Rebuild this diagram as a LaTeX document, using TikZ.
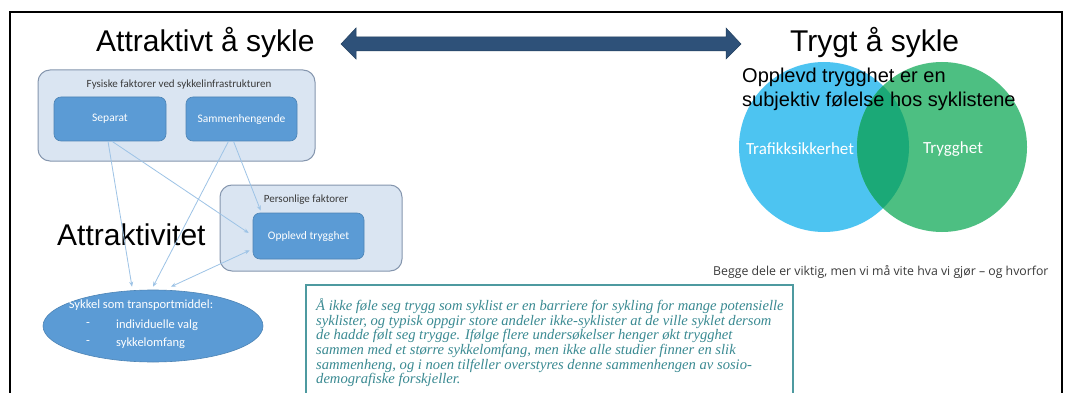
\documentclass[tikz,border=0pt]{standalone}
\usepackage{fontspec}
\setmainfont{Liberation Sans}
\newfontfamily\calfont{Carlito}
\newfontfamily\osfont{Open Sans}
\newfontfamily\garfont{Liberation Serif}
\usetikzlibrary{arrows.meta,calc,shapes.geometric}
\definecolor{outerfill}{HTML}{DAE5F2}
\definecolor{outerline}{HTML}{8596AE}
\definecolor{innerfill}{HTML}{5B9BD5}
\definecolor{connline}{HTML}{9DC3E6}
\definecolor{darkarrow}{HTML}{2E5179}
\definecolor{darkarrowline}{HTML}{23405F}
\definecolor{vennblue}{HTML}{4DC4F1}
\definecolor{venngreen}{HTML}{4DBF82}
\definecolor{vennmix}{HTML}{1BA977}
\definecolor{tealtext}{HTML}{3A8A92}
\definecolor{tealline}{HTML}{4E9AA0}
\definecolor{graytext}{HTML}{3A3A3A}
\tikzset{
  outerbox/.style={draw=outerline, fill=outerfill, line width=1pt, rounded corners=12pt, inner sep=0pt},
  innerbox/.style={draw=innerfill!85!black, fill=innerfill, line width=0.6pt, rounded corners=7pt, inner sep=0pt,
     text=white, font=\calfont\fontsize{11.5}{14}\selectfont},
  boxlabel/.style={inner sep=0pt, text=graytext, font=\calfont\fontsize{11}{13}\selectfont},
  bigtext/.style={inner sep=0pt, anchor=base west, font=\fontsize{30}{36}\selectfont},
  midtext/.style={inner sep=0pt, anchor=base west, font=\fontsize{20}{24}\selectfont},
  conn/.style={draw=connline, line width=0.8pt, -{Stealth[length=5pt,width=4pt]}},
  connboth/.style={draw=connline, line width=0.8pt, {Stealth[length=5pt,width=4pt]}-{Stealth[length=5pt,width=4pt]}},
  ellitext/.style={inner sep=0pt, text=white, font=\calfont\fontsize{12.5}{15}\selectfont},
  quoteline/.style={inner sep=0pt, anchor=base west, text=tealtext, font=\garfont\itshape\fontsize{14.6}{15}\selectfont},
}
\begin{document}
\begin{tikzpicture}[x=1pt,y=-1pt]
\useasboundingbox (0,0) rectangle (1065,393);
\fill[white] (0,0) rectangle (1065,393);
\clip (0,0) rectangle (1065,393);
% frame
\draw[line width=1.5pt] (10,430) -- (10,12) -- (1062,12) -- (1062,430);

% titles
\node[bigtext] (tatt) at (96,52) {Attraktivt å sykle};
\node[bigtext] (ttry) at (790,52) {Trygt å sykle};
\node[bigtext] (tattr) at (57,245) {Attraktivitet};

% double block arrow
\fill[darkarrow, draw=darkarrowline, line width=0.5pt]
  (341,44) -- (356,28) -- (356,37) -- (726,37) -- (726,28) -- (741,44)
  -- (726,59) -- (726,51) -- (356,51) -- (356,59) -- cycle;

% left diagram
\node[outerbox, minimum width=277pt, minimum height=91pt] (fys) at (176.5,115.5) {};
\node[boxlabel] (fysl) at (179,85) {Fysiske faktorer ved sykkelinfrastrukturen};
\node[innerbox, minimum width=112pt, minimum height=44pt] (sep) at (110,119) {Separat};
\node[innerbox, minimum width=111pt, minimum height=44pt] (sam) at (241.5,119) {Sammenhengende};
\node[outerbox, minimum width=182pt, minimum height=86pt] (pers) at (311,228) {};
\node[boxlabel] (persl) at (306,200) {Personlige faktorer};
\node[innerbox, minimum width=111pt, minimum height=46pt] (opp) at (308.5,236) {Opplevd trygghet};
\node[ellipse, draw=innerfill!85!black, fill=innerfill, line width=0.6pt, minimum width=220pt, minimum height=72pt, inner sep=0pt] (ell) at (153,326) {};
\node[ellitext] (e1) at (141,305) {Sykkel som transportmiddel:};
\node[ellitext] (e2d) at (88,325) {-};
\node[ellitext, anchor=west] (e2) at (116,325) {individuelle valg};
\node[ellitext] (e3d) at (88,343) {-};
\node[ellitext, anchor=west] (e3) at (116,343) {sykkelomfang};

% connectors
\draw[conn] ($(sep.south)+(-2,0)$) -- ($(ell.north)+(-21,-3)$);
\draw[conn] ($(sep.south)+(2,0)$) -- ($(opp.west)+(-4,-3)$);
\draw[conn] ($(sam.south)+(-13,0)$) -- ($(ell.north)+(0,-3)$);
\draw[conn] ($(sam.south)+(-8,0)$) -- ($(opp.north west)+(8,-2)$);
\draw[connboth] ($(opp.south west)+(-3,-9)$) -- ($(ell.north)+(18,-3)$);

% Venn
\node[circle, fill=vennblue, minimum size=170pt, inner sep=0pt] (vb) at (824,147) {};
\node[circle, fill=venngreen, minimum size=170pt, inner sep=0pt] (vg) at (942,147) {};
\begin{scope}
  \clip (824,147) circle (85pt);
  \fill[vennmix] (942,147) circle (85pt);
\end{scope}
\node[inner sep=0pt, text=white, font=\calfont\fontsize{17}{20}\selectfont] (vbl) at (800,149) {Trafikksikkerhet};
\node[inner sep=0pt, text=white, font=\calfont\fontsize{17}{20}\selectfont] (vgl) at (953,149) {Trygghet};
\node[midtext] (op1) at (742,83) {Opplevd trygghet er en};
\node[midtext] (op2) at (742,107) {subjektiv følelse hos syklistene};

\node[inner sep=0pt, anchor=base west, text=graytext, font=\osfont\fontsize{12.3}{14}\selectfont] (begge) at (713,275) {Begge dele er viktig, men vi må vite hva vi gjør – og hvorfor};

% text box
\draw[tealline, line width=1.8pt] (306,285) rectangle (793,440);
\node[quoteline] (q1) at (316,310.5) {Å ikke føle seg trygg som syklist er en barriere for sykling for mange potensielle};
\node[quoteline] (q2) at (316,325) {syklister, og typisk oppgir store andeler ikke-syklister at de ville syklet dersom};
\node[quoteline] (q3) at (316,339.7) {de hadde følt seg trygge. Ifølge flere undersøkelser henger økt trygghet};
\node[quoteline] (q4) at (316,354.3) {sammen med et større sykkelomfang, men ikke alle studier finner en slik};
\node[quoteline] (q5) at (316,369) {sammenheng, og i noen tilfeller overstyres denne sammenhengen av sosio-};
\node[quoteline] (q6) at (316,383.6) {demografiske forskjeller.};
\end{tikzpicture}
\end{document}
